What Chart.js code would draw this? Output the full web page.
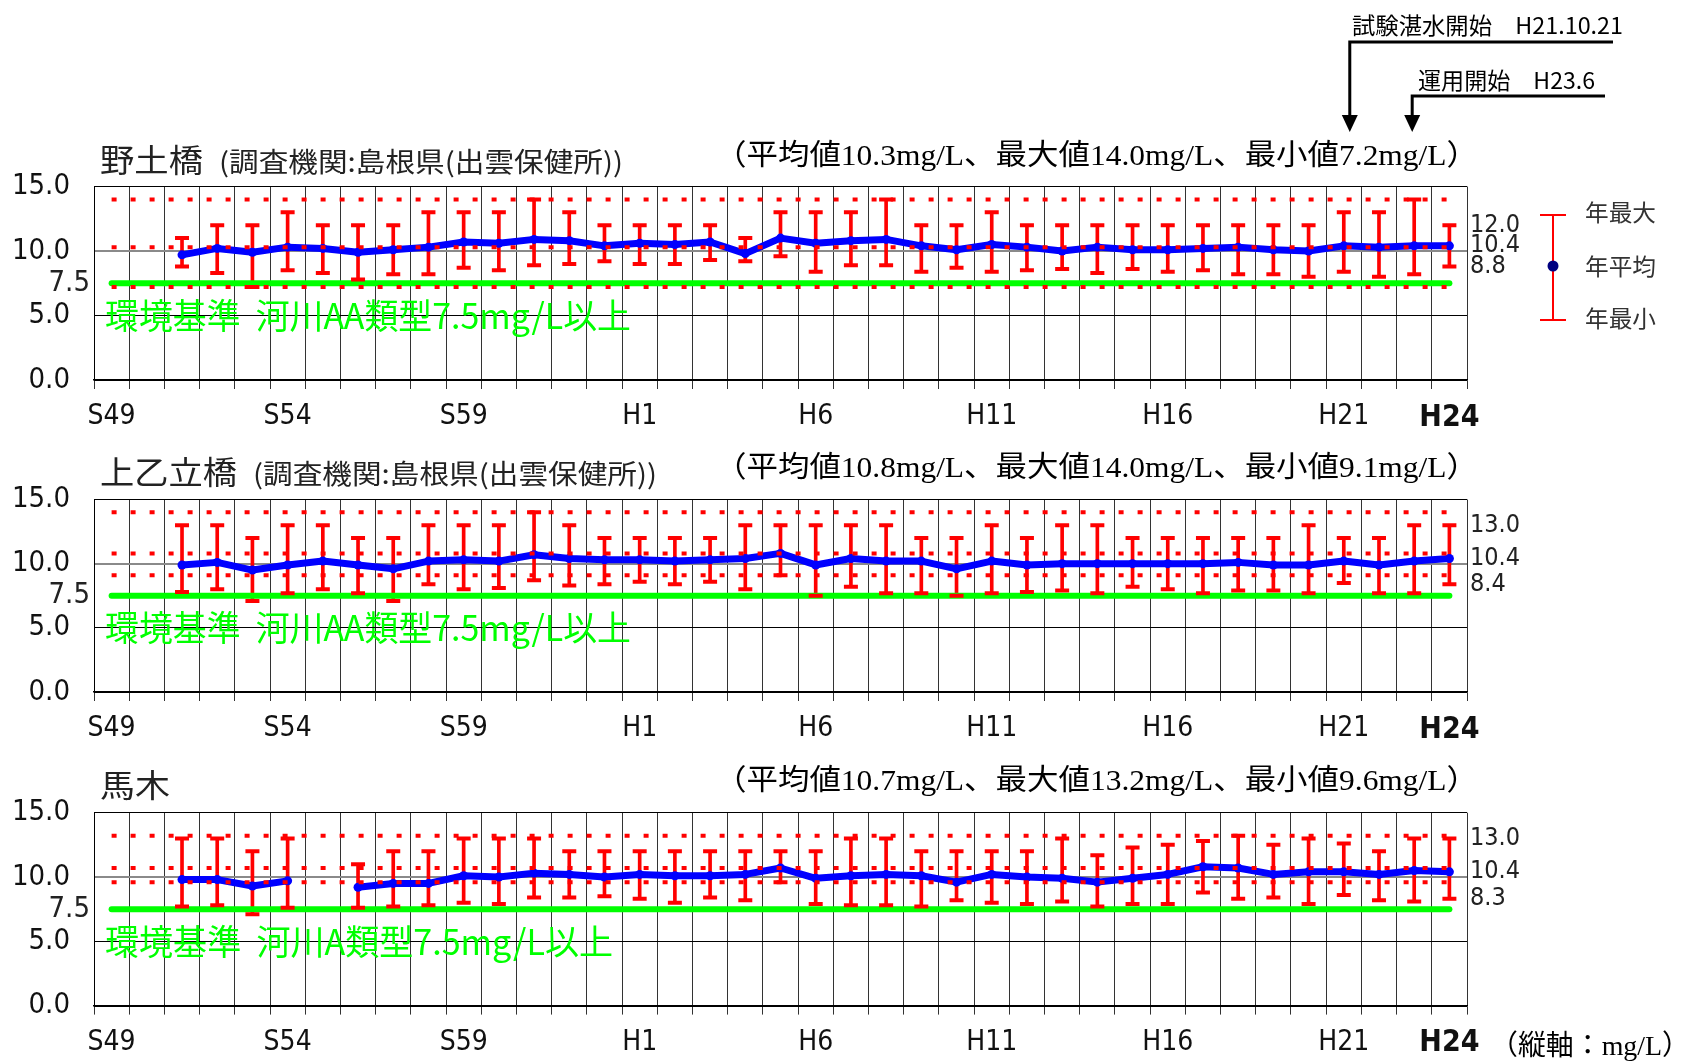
<!DOCTYPE html>
<html lang="ja">
<head>
<meta charset="utf-8">
<title>BOD 経年変化</title>
<script src="https://cdn.jsdelivr.net/npm/chart.js@4.4.1/dist/chart.umd.min.js"></script>
<style>
  html, body { margin: 0; padding: 0; background: #fff; }
  #wrap { position: relative; width: 1690px; height: 1064px; overflow: hidden; }
  canvas { position: absolute; left: 0; }
</style>
</head>
<body>
<div id="wrap">
  <canvas id="c1" width="1690" height="440" style="top:0"></canvas>
  <canvas id="c2" width="1690" height="310" style="top:440px"></canvas>
  <canvas id="c3" width="1690" height="314" style="top:750px"></canvas>
</div>
<script>
// years on the x axis (S49 .. H24)
const years = [
  "S49", "S50", "S51", "S52", "S53", "S54", "S55", "S56", "S57", "S58",
  "S59", "S60", "S61", "S62", "S63", "H1", "H2", "H3", "H4", "H5",
  "H6", "H7", "H8", "H9", "H10", "H11", "H12", "H13", "H14", "H15",
  "H16", "H17", "H18", "H19", "H20", "H21", "H22", "H23", "H24",
];
const shownYears = ["S49", "S54", "S59", "H1", "H6", "H11", "H16", "H21", "H24"];
const yTicks = [0, 5, 10, 15];
const envStandard = 7.5;

// 野土橋
const nodoMean = [null, null, 9.7, 10.2, 9.9, 10.3, 10.2, 9.9, 10.1, 10.3, 10.7, 10.6, 10.9, 10.8, 10.4, 10.6, 10.5, 10.7, 9.8, 11.0,
  10.6, 10.8, 10.9, 10.4, 10.1, 10.5, 10.3, 10.0, 10.3, 10.1, 10.1, 10.2, 10.3, 10.1, 10.0, 10.4, 10.3, 10.4, 10.4];
const nodoMax = [null, null, 11, 12, 12, 13, 12, 12, 12, 13, 13, 13, 14, 13, 12, 12, 12, 12, 11, 13,
  13, 13, 14, 12, 12, 13, 12, 12, 12, 12, 12, 12, 12, 12, 12, 13, 13, 14, 12];
const nodoMin = [null, null, 8.8, 8.3, 7.2, 8.5, 8.3, 7.8, 8.2, 8.2, 8.7, 8.5, 8.9, 9.0, 9.2, 9.0, 9.0, 9.3, 9.2, 9.6,
  8.4, 8.9, 8.9, 8.4, 8.7, 8.4, 8.5, 8.6, 8.3, 8.6, 8.4, 8.5, 8.2, 8.2, 8.0, 8.4, 8.0, 8.2, 8.8];
const nodoStats = [10.3, 14.0, 7.2]; // 平均値, 最大値, 最小値

// 上乙立橋
const kamiMean = [null, null, 9.9, 10.1, 9.5, 9.9, 10.2, 9.9, 9.6, 10.2, 10.3, 10.2, 10.7, 10.4, 10.3, 10.3, 10.2, 10.3, 10.4, 10.8,
  9.9, 10.4, 10.2, 10.2, 9.6, 10.2, 9.9, 10.0, 10.0, 10.0, 10.0, 10.0, 10.1, 9.9, 9.9, 10.2, 9.9, 10.2, 10.4];
const kamiMax = [null, null, 13, 13, 12, 13, 13, 12, 12, 13, 13, 13, 14, 13, 12, 12, 12, 12, 13, 13,
  13, 13, 13, 12, 12, 13, 12, 13, 13, 12, 12, 12, 12, 12, 13, 12, 12, 13, 13];
const kamiMin = [null, null, 7.8, 8.0, 7.1, 7.7, 8.0, 7.7, 7.1, 8.4, 8.0, 8.1, 8.7, 8.3, 8.4, 8.6, 8.4, 8.6, 8.0, 9.1,
  7.5, 8.2, 7.7, 7.7, 7.5, 7.7, 7.8, 7.9, 7.7, 8.2, 8.0, 7.7, 7.9, 7.9, 7.7, 8.5, 7.7, 7.7, 8.4];
const kamiStats = [10.8, 14.0, 9.1];

// 馬木
const umaMean = [null, null, 9.8, 9.8, 9.3, 9.7, null, 9.2, 9.5, 9.5, 10.1, 10.0, 10.3, 10.2, 10.0, 10.2, 10.1, 10.1, 10.2, 10.7,
  9.9, 10.1, 10.2, 10.1, 9.6, 10.2, 10.0, 9.9, 9.6, 9.9, 10.2, 10.8, 10.7, 10.2, 10.4, 10.4, 10.2, 10.5, 10.4];
const umaMax = [null, null, 13, 13, 12, 13, null, 11, 12, 12, 13, 13, 13, 12, 12, 12, 12, 12, 12, 12,
  12, 13, 13, 12, 12, 12, 12, 13, 11.7, 12.3, 12.5, 12.8, 13.2, 12.5, 13, 12.6, 12, 13, 13];
const umaMin = [null, null, 7.7, 7.8, 7.1, 7.6, null, 7.6, 7.7, 7.8, 8.0, 7.9, 8.4, 8.4, 8.5, 8.3, 8.0, 8.4, 8.2, 9.6,
  7.9, 7.8, 7.8, 7.7, 8.2, 8.0, 7.9, 8.1, 7.7, 7.9, 7.9, 8.8, 8.3, 8.4, 7.9, 8.6, 8.2, 8.1, 8.3];
const umaStats = [10.7, 13.2, 9.6];

const colors = {
  red: "#ff0000",
  blue: "#0000ff",
  navy: "#000080",
  green: "#00ff00",
  ink: "#222222",
};
const CJK = "'Noto Sans CJK JP', sans-serif";
const NARROW = "'Liberation Sans Narrow', 'DejaVu Sans Condensed', 'Liberation Sans', sans-serif";
const SERIF = "'Liberation Serif', 'Noto Sans CJK JP', serif";

// draw text, squeezed to a width when one is given
function txt(ctx, s, x, y, font, color, align, w) {
  ctx.save();
  ctx.font = font;
  ctx.fillStyle = color;
  ctx.textBaseline = "middle";
  ctx.textAlign = align || "left";
  const sx = w ? w / ctx.measureText(s).width : 1;
  ctx.translate(x, y);
  ctx.scale(sx, 1);
  ctx.fillText(s, 0, 0);
  ctx.restore();
}

const decor = {
  id: "decor",
  afterDraw(chart, args, o) {
    const { ctx, chartArea: a, scales } = chart;
    const y = scales.y;
    txt(ctx, o.name, 100, o.titleY, "32px " + CJK, colors.ink, "left", o.nameW);
    if (o.sub) txt(ctx, o.sub, o.subX, o.titleY + 2, "27px " + CJK, colors.ink, "left", 404);
    const s = o.stats;
    txt(ctx, "（平均値" + s[0].toFixed(1) + "mg/L、最大値" + s[1].toFixed(1) + "mg/L、最小値" + s[2].toFixed(1) + "mg/L）",
      715, o.titleY - 3, "29px " + SERIF, "#000", "left", 763);
    txt(ctx, "7.5", a.left - 4, y.getPixelForValue(envStandard), "29px " + NARROW, colors.ink, "right");
    txt(ctx, o.envText, 105, y.getPixelForValue(5), "35px " + CJK, colors.green, "left", o.envW);
    const last = years.length - 1;
    [o.max[last], o.mean[last], o.min[last]].forEach((v) => {
      txt(ctx, v.toFixed(1), a.right + 3, y.getPixelForValue(v), "25px " + NARROW, colors.ink, "left");
    });
    if (o.extra) o.extra(chart);
  },
};

function topNotes(chart) {
  const ctx = chart.ctx;
  const x = chart.scales.x;
  const xa = x.getPixelForValue(35) + 6;
  const xb = x.getPixelForValue(37) - 2;
  ctx.save();
  ctx.strokeStyle = "#000";
  ctx.fillStyle = "#000";
  ctx.lineWidth = 3;
  [[xa, 42, 1613], [xb, 96, 1605]].forEach(([px, py, end]) => {
    ctx.beginPath();
    ctx.moveTo(end, py);
    ctx.lineTo(px, py);
    ctx.lineTo(px, 117);
    ctx.stroke();
    ctx.beginPath();
    ctx.moveTo(px - 8, 115);
    ctx.lineTo(px + 8, 115);
    ctx.lineTo(px, 132);
    ctx.closePath();
    ctx.fill();
  });
  ctx.restore();
  txt(ctx, "試験湛水開始　H21.10.21", 1352, 25, "23px " + CJK, "#000", "left", 271);
  txt(ctx, "運用開始　H23.6", 1418, 80, "23px " + CJK, "#000", "left", 177);

  // legend
  ctx.save();
  ctx.strokeStyle = colors.red;
  ctx.lineWidth = 2;
  ctx.beginPath();
  ctx.moveTo(1553, 215); ctx.lineTo(1553, 320);
  ctx.moveTo(1540, 215); ctx.lineTo(1566, 215);
  ctx.moveTo(1540, 320); ctx.lineTo(1566, 320);
  ctx.stroke();
  ctx.fillStyle = colors.navy;
  ctx.beginPath();
  ctx.arc(1553, 266, 5.5, 0, Math.PI * 2);
  ctx.fill();
  ctx.restore();
  txt(ctx, "年最大", 1585, 212, "23px " + CJK, "#333", "left", 71);
  txt(ctx, "年平均", 1585, 266, "23px " + CJK, "#333", "left", 71);
  txt(ctx, "年最小", 1585, 318, "23px " + CJK, "#333", "left", 71);
}

function unitNote(chart) {
  txt(chart.ctx, "（縦軸：mg/L）", 1490, 298, "28px " + SERIF, "#000", "left", 200);
}

function makeChart(id, p) {
  const flat = (v) => years.map(() => v);
  const refLine = (v) => ({
    type: "line", data: flat(v), borderColor: colors.red, borderWidth: 4,
    borderDash: [5, 14], pointRadius: 0, order: 0,
  });
  const caps = (arr) => ({
    type: "line", data: arr, showLine: false, pointStyle: "line",
    pointRadius: 7, pointBorderWidth: 4, pointBorderColor: colors.red, order: 2,
  });
  new Chart(document.getElementById(id), {
    type: "line",
    data: {
      labels: years,
      datasets: [
        refLine(p.stats[1]),
        refLine(p.stats[0]),
        refLine(p.stats[2]),
        {
          type: "line", data: p.mean, borderColor: colors.blue, borderWidth: 7,
          borderJoinStyle: "round", pointRadius: 4.5, pointBackgroundColor: colors.blue,
          pointBorderWidth: 0, spanGaps: false, order: 1,
        },
        caps(p.max),
        caps(p.min),
        {
          type: "line", data: flat(envStandard), borderColor: colors.green, borderWidth: 6,
          borderCapStyle: "round", pointRadius: 0, order: 3,
        },
        {
          type: "bar", data: years.map((_, i) => (p.max[i] == null ? null : [p.min[i], p.max[i]])),
          backgroundColor: colors.red, barThickness: 3, order: 4,
        },
      ],
    },
    options: {
      responsive: false,
      animation: false,
      events: [],
      layout: { padding: { top: p.top, right: 1690 - 1467, left: 0, bottom: 0 } },
      plugins: {
        legend: { display: false },
        tooltip: { enabled: false },
        decor: p,
      },
      scales: {
        x: {
          type: "category",
          offset: true,
          grid: { offset: true, color: "#333", lineWidth: 1, tickLength: 9 },
          border: { color: "#000", width: 1.5 },
          ticks: {
            autoSkip: false, maxRotation: 0, minRotation: 0, padding: 11, color: "#111",
            font: (c) => (c.tick && c.tick.label === "H24"
              ? { family: NARROW, size: 30, weight: "bold" }
              : { family: NARROW, size: 28 }),
            callback: (v, i) => (shownYears.includes(years[i]) ? years[i] : ""),
          },
          afterFit: (s) => { s.height = p.axisH; },
        },
        y: {
          min: 0,
          max: 15,
          afterBuildTicks: (s) => { s.ticks = yTicks.map((v) => ({ value: v })); },
          grid: {
            drawTicks: false,
            color: (c) => (c.tick && c.tick.value === 10 ? "#8a8a8a" : "#000"),
            lineWidth: (c) => (c.tick && (c.tick.value === 10 || c.tick.value === 0) ? 2 : 1),
          },
          border: { color: "#000", width: 1 },
          ticks: {
            padding: 24, color: "#111",
            font: { family: NARROW, size: 29 },
            callback: (v) => Number(v).toFixed(1),
          },
          afterFit: (s) => { s.width = 94; },
        },
      },
    },
    plugins: [decor],
  });
}

makeChart("c1", {
  name: "野土橋", nameW: 103, sub: "(調査機関:島根県(出雲保健所))", subX: 219, titleY: 160,
  mean: nodoMean, max: nodoMax, min: nodoMin, stats: nodoStats,
  envText: "環境基準  河川AA類型7.5mg/L以上", envW: 526,
  top: 186.5, axisH: 60, extra: topNotes,
});
makeChart("c2", {
  name: "上乙立橋", nameW: 137, sub: "(調査機関:島根県(出雲保健所))", subX: 253, titleY: 32,
  mean: kamiMean, max: kamiMax, min: kamiMin, stats: kamiStats,
  envText: "環境基準  河川AA類型7.5mg/L以上", envW: 526,
  top: 59.5, axisH: 58,
});
makeChart("c3", {
  name: "馬木", nameW: 70, titleY: 35,
  mean: umaMean, max: umaMax, min: umaMin, stats: umaStats,
  envText: "環境基準  河川A類型7.5mg/L以上", envW: 508,
  top: 62.7, axisH: 58.4, extra: unitNote,
});
</script>
</body>
</html>
